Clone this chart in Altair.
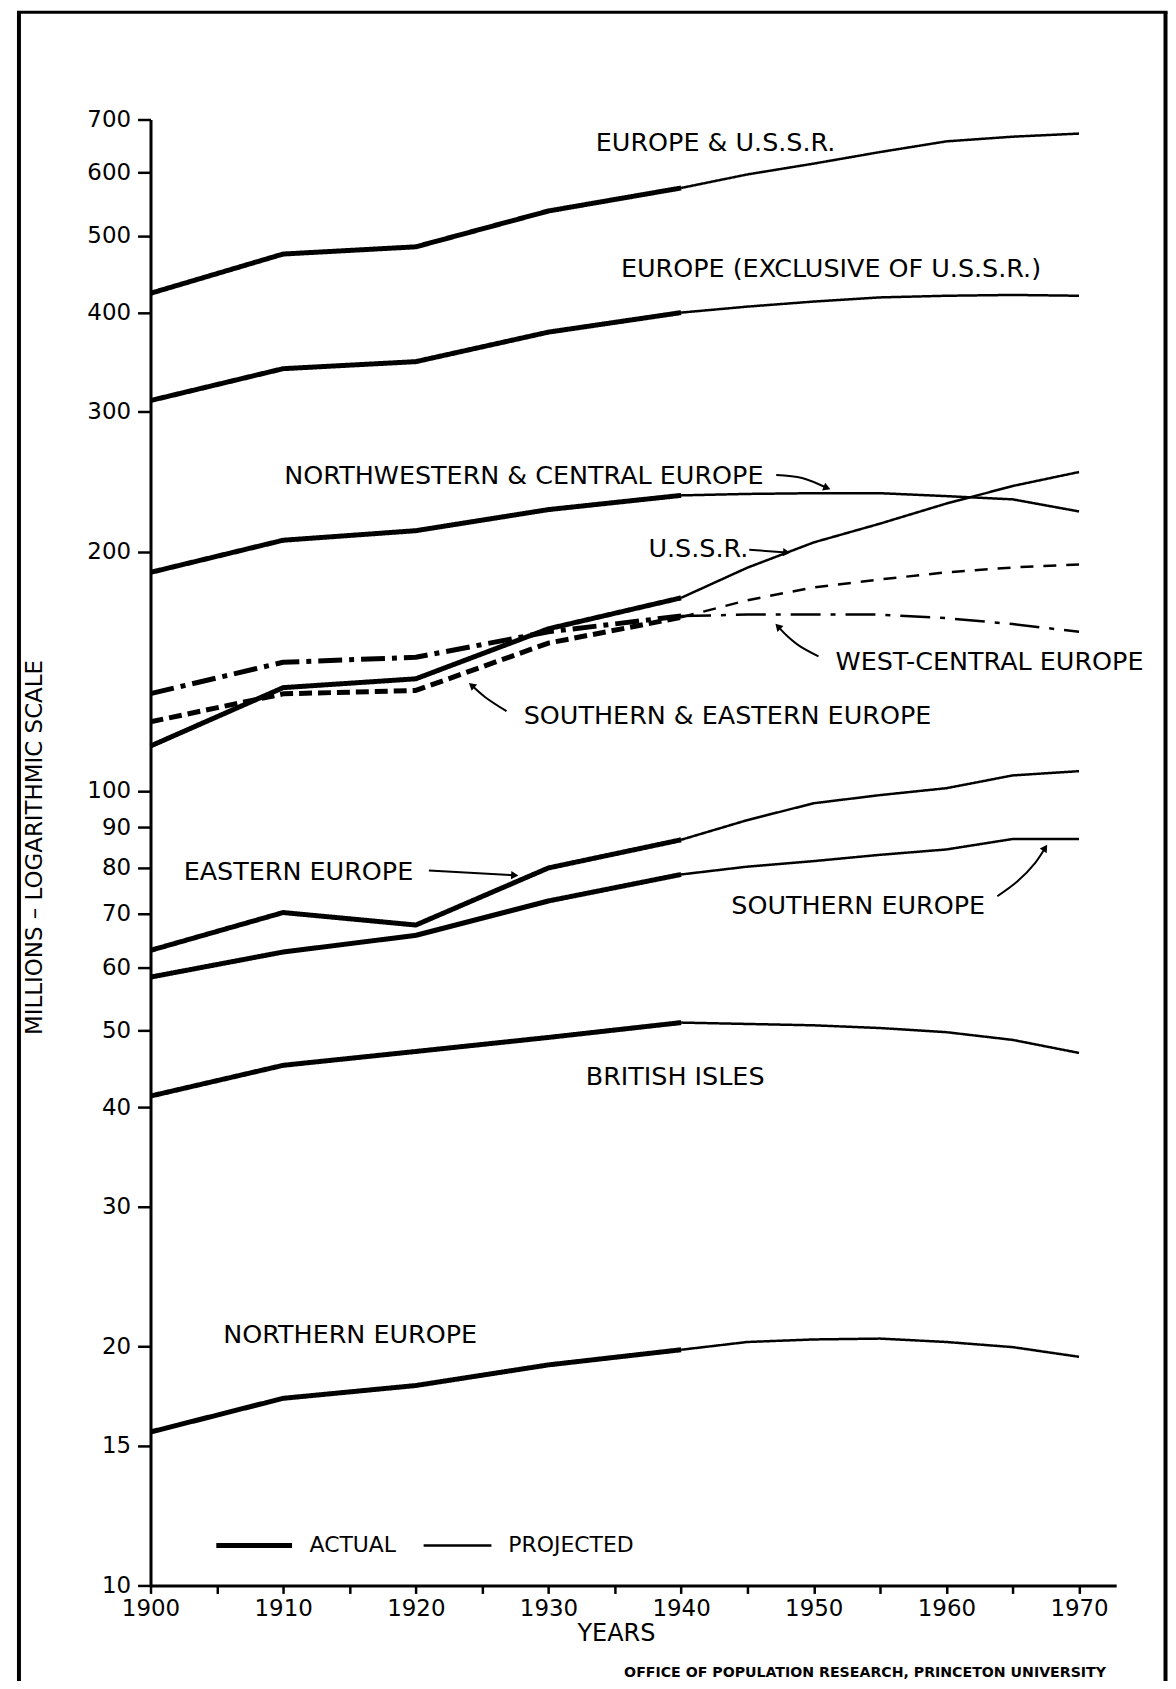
import altair as alt
import pandas as pd

# ---------------- data (millions) ----------------
YEARS_ACTUAL = [1900, 1910, 1920, 1930, 1940]
YEARS_PROJECTED = [1940, 1945, 1950, 1955, 1960, 1965, 1970]

EUROPE_USSR_ACTUAL = [423, 474, 484, 537, 574]
EUROPE_USSR_PROJECTED = [574, 597, 616, 637, 657, 666, 672]
EUROPE_EXCL_ACTUAL = [310, 340, 347, 378, 400]
EUROPE_EXCL_PROJECTED = [400, 407, 413, 418, 420, 421, 420]
NW_CENTRAL_ACTUAL = [188.4, 206.8, 212.6, 226, 235.5]
NW_CENTRAL_PROJECTED = [235.5, 236.5, 237, 237, 235, 232.8, 224.8]
USSR_ACTUAL = [113.9, 134.9, 138.4, 160, 175]
USSR_PROJECTED = [175, 191, 205.5, 217, 230, 242, 252]
WEST_CENTRAL_ACTUAL = [132.6, 145.2, 147.3, 158.6, 166]
WEST_CENTRAL_PROJECTED = [166, 166.7, 166.8, 166.7, 165, 162.2, 158.6]
SOUTH_EAST_ACTUAL = [122.2, 132.5, 133.8, 153.5, 165.4]
SOUTH_EAST_PROJECTED = [165.4, 173.8, 180.4, 184.6, 188.4, 191.1, 192.8]
EASTERN_ACTUAL = [63, 70.3, 67.8, 80, 86.8]
EASTERN_PROJECTED = [86.8, 91.9, 96.5, 98.8, 100.8, 104.6, 105.9]
SOUTHERN_ACTUAL = [58.3, 62.7, 65.8, 72.7, 78.5]
SOUTHERN_PROJECTED = [78.5, 80.3, 81.6, 83.1, 84.4, 87, 87]
BRITISH_ACTUAL = [41.3, 45.15, 47.0, 48.95, 51.1]
BRITISH_PROJECTED = [51.1, 50.9, 50.7, 50.3, 49.7, 48.6, 46.8]
NORTHERN_ACTUAL = [15.6, 17.2, 17.85, 18.95, 19.8]
NORTHERN_PROJECTED = [19.8, 20.25, 20.4, 20.45, 20.25, 19.95, 19.4]

SERIES = [
    ("Europe & U.S.S.R.", "solid", EUROPE_USSR_ACTUAL, EUROPE_USSR_PROJECTED),
    ("Europe excl. U.S.S.R.", "solid", EUROPE_EXCL_ACTUAL, EUROPE_EXCL_PROJECTED),
    ("Northwestern & Central", "solid", NW_CENTRAL_ACTUAL, NW_CENTRAL_PROJECTED),
    ("U.S.S.R.", "solid", USSR_ACTUAL, USSR_PROJECTED),
    ("West-Central", "dashdot", WEST_CENTRAL_ACTUAL, WEST_CENTRAL_PROJECTED),
    ("Southern & Eastern", "dashed", SOUTH_EAST_ACTUAL, SOUTH_EAST_PROJECTED),
    ("Eastern", "solid", EASTERN_ACTUAL, EASTERN_PROJECTED),
    ("Southern", "solid", SOUTHERN_ACTUAL, SOUTHERN_PROJECTED),
    ("British Isles", "solid", BRITISH_ACTUAL, BRITISH_PROJECTED),
    ("Northern", "solid", NORTHERN_ACTUAL, NORTHERN_PROJECTED),
]

# curve labels (centre position in data units)
LABEL_TEXT = ["EUROPE & U.S.S.R.", "EUROPE (EXCLUSIVE OF U.S.S.R.)",
              "NORTHWESTERN & CENTRAL EUROPE", "U.S.S.R.", "WEST-CENTRAL EUROPE",
              "SOUTHERN & EASTERN EUROPE", "EASTERN EUROPE", "SOUTHERN EUROPE",
              "BRITISH ISLES", "NORTHERN EUROPE"]
LABEL_YEAR = [1942.6, 1951.3, 1928.15, 1941.3, 1963.25, 1943.5, 1911.15, 1953.35, 1939.55, 1915.05]
LABEL_VALUE = [653, 453.2, 249.3, 201.6, 145.3, 124.4, 79.0, 71.7, 43.6, 20.65]

# pointer arrows (shaft points, data units)
ARROW_ID = ["nw", "nw", "nw", "ussr", "ussr", "wc", "wc", "wc", "wc",
            "se", "se", "se", "east", "east", "south", "south", "south", "south"]
ARROW_YEAR = [1947.17, 1949.12, 1951.0, 1945.14, 1947.96, 1950.36, 1948.86, 1947.96, 1947.3,
              1926.84, 1925.21, 1924.21, 1920.99, 1927.46, 1963.84, 1965.34, 1966.7, 1967.45]
ARROW_VALUE = [249.9, 247.7, 240.6, 201.2, 199.6, 147.7, 152.5, 156.9, 161.1,
               126.0, 131.3, 135.8, 79.4, 78.3, 73.7, 76.9, 81.2, 84.8]
TIP_YEAR = [1951.0, 1947.96, 1947.3, 1924.21, 1927.46, 1967.45]
TIP_VALUE = [240.6, 199.6, 161.1, 135.8, 78.3, 84.8]
TIP_ANGLE = [22, 4, 226, 221, 3, 304]

# key (legend) inside the plot
KEY_TEXT = ["ACTUAL", "PROJECTED"]
KEY_TEXT_YEAR = [1915.25, 1931.7]
KEY_VALUE = 11.23
KEY_ACTUAL_YEARS = [1904.96, 1910.67]
KEY_PROJECTED_YEARS = [1920.59, 1925.7]

X_TICKS = list(range(1900, 1971, 5))
Y_TICKS = [10, 15, 20, 30, 40, 50, 60, 70, 80, 90, 100, 200, 300, 400, 500, 600, 700]

FONT = "DejaVu Sans"

# ---------------- tables ----------------
rows = []
for name, style, act, proj in SERIES:
    for y, v in zip(YEARS_ACTUAL, act):
        rows.append({"series": name, "style": style, "phase": "actual", "year": y, "value": v})
    for y, v in zip(YEARS_PROJECTED, proj):
        rows.append({"series": name, "style": style, "phase": "projected", "year": y, "value": v})
lines = pd.DataFrame(rows)

labels = pd.DataFrame({"text": LABEL_TEXT, "year": LABEL_YEAR, "value": LABEL_VALUE})
arrows = pd.DataFrame({"arrow": ARROW_ID, "year": ARROW_YEAR, "value": ARROW_VALUE,
                       "ord": list(range(len(ARROW_ID)))})
tips = pd.DataFrame({"year": TIP_YEAR, "value": TIP_VALUE, "angle": TIP_ANGLE})
key_lines = pd.DataFrame({
    "phase": ["actual", "actual", "projected", "projected"],
    "year": KEY_ACTUAL_YEARS + KEY_PROJECTED_YEARS,
    "value": [KEY_VALUE] * 4,
})
key_text = pd.DataFrame({"text": KEY_TEXT, "year": KEY_TEXT_YEAR, "value": [KEY_VALUE] * 2})

X_SCALE = alt.Scale(domain=[1900, 1972.8], nice=False, zero=False)
Y_SCALE = alt.Scale(type="log", domain=[10, 700], nice=False)

x_axis = alt.Axis(values=X_TICKS, format="d",
                  labelExpr="datum.value % 10 === 0 ? datum.label : ''",
                  title="YEARS", titleFont=FONT, titleFontSize=24, titleFontWeight="normal",
                  titleColor="black", titleX=467, titleY=48, titleAlign="center",
                  titleBaseline="middle", labelFont=FONT, labelFontSize=23, labelColor="black",
                  labelPadding=4, labelFlush=False, labelOverlap=False, tickSize=8,
                  tickWidth=2.5, tickColor="black", domainColor="black", domainWidth=3,
                  grid=False)
y_axis = alt.Axis(values=Y_TICKS, format="d",
                  title="MILLIONS – LOGARITHMIC SCALE", titleFont=FONT, titleFontSize=23,
                  titleFontWeight="normal", titleColor="black", titleX=-116, titleY=730,
                  titleAngle=270, titleAlign="center", titleBaseline="middle",
                  labelFont=FONT, labelFontSize=23, labelColor="black", labelPadding=7,
                  labelFlush=False, labelOverlap=False, tickSize=13, tickWidth=2.5,
                  tickColor="black", domainColor="black", domainWidth=3, grid=False)


def X():
    return alt.X("year:Q", scale=X_SCALE, axis=x_axis)


def Y():
    return alt.Y("value:Q", scale=Y_SCALE, axis=y_axis)


STYLES = {
    ("solid", "actual"): (5, [1, 0]),
    ("solid", "projected"): (2.5, [1, 0]),
    ("dashed", "actual"): (5, [13, 6]),
    ("dashed", "projected"): (2.5, [13, 10]),
    ("dashdot", "actual"): (5, [24, 7, 5, 7]),
    ("dashdot", "projected"): (2.5, [30, 10, 5, 10]),
}

layers = []
for (style, phase), (width, dash) in STYLES.items():
    sub = lines[(lines["style"] == style) & (lines["phase"] == phase)]
    layers.append(
        alt.Chart(sub).mark_line(color="black", strokeWidth=width, strokeDash=dash,
                                 strokeCap="butt", strokeJoin="round").encode(
            x=X(), y=Y(), detail="series:N", order="year:Q")
    )

# key lines
for phase, width in [("actual", 5), ("projected", 2.5)]:
    layers.append(
        alt.Chart(key_lines[key_lines["phase"] == phase]).mark_line(
            color="black", strokeWidth=width, strokeCap="butt").encode(x=X(), y=Y())
    )

layers.append(
    alt.Chart(key_text).mark_text(font=FONT, fontSize=22, color="black", align="center",
                                  baseline="middle").encode(x=X(), y=Y(), text="text:N")
)

layers.append(
    alt.Chart(labels).mark_text(font=FONT, fontSize=25.5, color="black", align="center",
                                baseline="middle").encode(x=X(), y=Y(), text="text:N")
)

layers.append(
    alt.Chart(arrows).mark_line(color="black", strokeWidth=2, interpolate="catmull-rom").encode(
        x=X(), y=Y(), detail="arrow:N", order="ord:Q")
)
layers.append(
    alt.Chart(tips).mark_point(shape="triangle-right", filled=True, color="black", size=70,
                               opacity=1).encode(
        x=X(), y=Y(), angle=alt.Angle("angle:Q", scale=None))
)

# page frame (decoration) and credit line
one = pd.DataFrame({"k": [0]})
layers.append(alt.Chart(one).mark_rule(color="black", strokeWidth=4).encode(
    x=alt.value(-132), y=alt.value(-108), y2=alt.value(1600)))
layers.append(alt.Chart(one).mark_rule(color="black", strokeWidth=4).encode(
    x=alt.value(1018.5), y=alt.value(-108), y2=alt.value(1600)))
layers.append(alt.Chart(one).mark_rule(color="black", strokeWidth=3).encode(
    x=alt.value(-134), x2=alt.value(1020.5), y=alt.value(-107.5)))
layers.append(alt.Chart(one).mark_text(font=FONT, fontSize=14.2, fontWeight="bold",
                                       color="black", align="center", baseline="middle").encode(
    x=alt.value(717), y=alt.value(1559),
    text=alt.value("OFFICE OF POPULATION RESEARCH, PRINCETON UNIVERSITY")))

chart = alt.layer(*layers).properties(
    width=969, height=1471,
    autosize=alt.AutoSizeParams(type="none"),
    padding={"left": 143, "top": 109, "right": 52, "bottom": 93},
    background="white",
).configure_view(strokeWidth=0)

chart.save("out.html", embed_options={"renderer": "svg", "actions": False})
